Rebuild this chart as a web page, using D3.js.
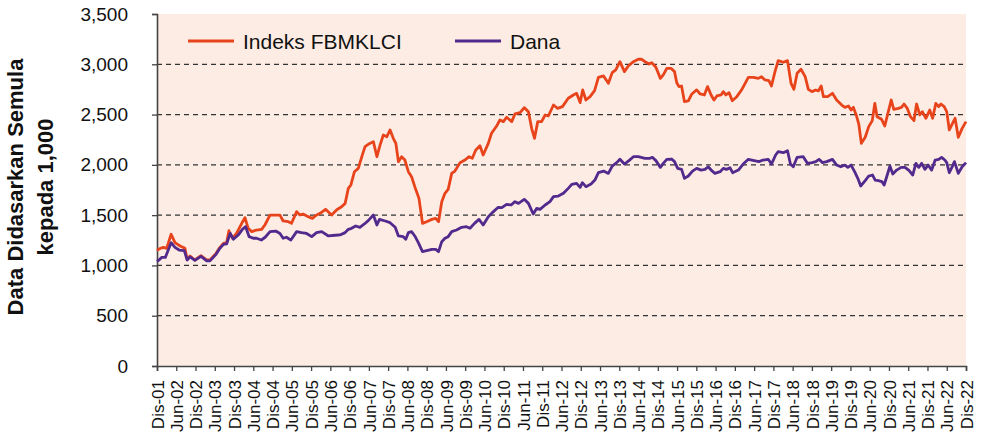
<!DOCTYPE html>
<html>
<head>
<meta charset="utf-8">
<script src="https://cdn.jsdelivr.net/npm/d3@7"></script>
<style>
  body { margin: 0; background: #fff; }
  svg { display: block; font-family: "Liberation Sans", Arial, sans-serif; }
</style>
</head>
<body>
<div id="chart"></div>
<script>
// months counted from Dis-01 (0) to Dis-22 (252), value rebased to 1,000
const fbmklci = [
  [0,1150],[1,1170],[2,1180],[3,1170],[4.4,1310],[5.6,1226],[7.2,1193],[8.7,1170],[9.4,1061],[10.3,1094],
  [11.8,1054],[13.7,1097],[15.5,1054],[16.5,1054],[18.4,1120],[19.6,1180],[20.7,1220],[21.7,1228],[22.4,1345],[23.5,1270],
  [24.8,1320],[26.4,1419],[27.4,1475],[28.4,1369],[29.5,1336],[31,1352],[32.6,1358],[33.6,1402],[35.2,1501],[36.8,1501],
  [38.3,1500],[39.3,1442],[40.9,1435],[41.9,1419],[43.5,1535],[44.5,1502],[45.5,1511],[47.1,1485],[48.4,1468],[49.6,1500],
  [50.8,1518],[52.5,1558],[54.4,1501],[56,1554],[57.5,1584],[58.6,1617],[59.6,1766],[60.4,1800],[61.5,1932],[62.7,1965],
  [63.8,2081],[64.8,2181],[65.8,2204],[67.4,2231],[68.5,2081],[69.5,2198],[70.5,2297],[71.6,2280],[72.6,2347],[73.6,2264],
  [74.4,2214],[75.2,2032],[76.2,2081],[77.2,2048],[78.3,1932],[79.3,1882],[80.3,1783],[81.6,1667],[82.7,1418],[84,1435],
  [85.6,1458],[86.8,1468],[87.7,1435],[88.7,1634],[89.7,1717],[90.7,1756],[91.8,1915],[92.8,1938],[94.4,2022],[95.9,2048],
  [97.2,2081],[98.2,2065],[99.3,2148],[100.6,2190],[101.6,2098],[103.2,2214],[104.2,2314],[105.8,2386],[106.8,2446],[107.9,2430],
  [108.9,2473],[110.5,2430],[111.5,2506],[113.1,2519],[114.4,2569],[115.7,2529],[116.7,2363],[117.6,2264],[118.6,2430],[119.8,2430],
  [120.9,2496],[121.9,2486],[123.5,2595],[124.8,2562],[126.3,2579],[128.1,2662],[129.7,2695],[130.7,2711],[131.8,2619],[132.6,2745],
  [133.6,2645],[134.9,2678],[136.3,2738],[137.5,2870],[139.1,2884],[140.6,2811],[141.8,2917],[142.9,2944],[144.2,3026],[145.6,2927],
  [146.8,2983],[148.4,3026],[149.9,3050],[151,3050],[152,3026],[153.3,3003],[154.1,3016],[155.4,2970],[156.8,2860],[157.7,2894],
  [158.8,2960],[160.1,2960],[161.2,2927],[161.9,2817],[162.6,2778],[163.4,2784],[164.3,2628],[165.5,2635],[166.6,2705],[168.1,2745],
  [169.2,2705],[170.5,2695],[171.5,2778],[172.6,2695],[173.5,2645],[174.4,2685],[175.7,2695],[176.4,2728],[177.2,2695],[178.2,2718],
  [179.2,2638],[180.6,2678],[182.1,2745],[183.2,2811],[184.2,2870],[185.8,2870],[187.3,2860],[188.3,2877],[189.4,2844],[190.6,2837],
  [191.4,2784],[192.5,2927],[193.5,3036],[195.1,3020],[196.4,3036],[197.5,2811],[198.4,2751],[199.4,2910],[200.6,2950],[201.9,2877],
  [202.9,2751],[204,2728],[205.2,2745],[206,2735],[206.9,2784],[207.6,2678],[208.9,2678],[210.4,2711],[211.7,2645],[213.3,2595],
  [214.3,2572],[215.4,2585],[216.2,2545],[216.9,2572],[217.8,2496],[218.6,2406],[219.4,2214],[220.6,2274],[221.7,2380],[222.8,2440],
  [223.6,2612],[224.3,2479],[225.7,2453],[226.7,2387],[227.8,2529],[228.7,2645],[229.5,2552],[230.9,2562],[231.9,2572],[232.7,2605],
  [233.7,2562],[234.7,2479],[235.8,2440],[236.6,2605],[237.6,2496],[238.4,2529],[239.5,2463],[240.7,2545],[241.6,2463],[242.6,2612],
  [243.5,2579],[244.2,2605],[245.2,2579],[246,2529],[246.8,2347],[247.8,2413],[248.6,2463],[249.6,2274],[250.8,2363],[252,2430]
];

const dana = [
  [0,1040],[0.6,1054],[1.5,1080],[2.6,1080],[4.4,1226],[5.6,1180],[6.9,1153],[8.5,1147],[9.4,1054],[10.3,1085],
  [11.8,1050],[13.7,1090],[15.5,1045],[16.5,1045],[18.4,1110],[19.6,1170],[20.7,1210],[21.7,1215],[22.8,1318],[23.8,1260],
  [25.3,1302],[26.6,1359],[27.6,1385],[28.7,1286],[30,1270],[31,1270],[32.5,1253],[33.7,1280],[35.2,1336],[37,1342],
  [38.3,1318],[39.3,1270],[40.3,1280],[41.7,1253],[43.5,1336],[45,1326],[46.6,1318],[48.2,1286],[49.7,1326],[51.3,1336],
  [53.4,1293],[55.5,1300],[57,1303],[58.6,1326],[59.6,1359],[60.6,1369],[61.9,1392],[63.2,1379],[64.6,1412],[65.8,1445],
  [67.4,1501],[68.5,1402],[69.3,1458],[71.1,1442],[72.6,1425],[74.2,1379],[75.2,1293],[76.7,1286],[77.5,1260],[78.3,1326],
  [79.3,1336],[80.3,1293],[81.4,1226],[82.7,1137],[84,1147],[85.6,1160],[86.8,1160],[87.7,1137],[88.7,1236],[89.7,1270],
  [90.7,1286],[91.8,1336],[93.3,1352],[94.9,1379],[96.4,1385],[97.5,1369],[98.9,1418],[100.3,1458],[101.6,1402],[103.2,1485],
  [104.8,1535],[106.3,1578],[107.4,1574],[108.9,1607],[110.3,1601],[111.5,1634],[112.6,1617],[114.4,1657],[115.7,1617],[117.2,1511],
  [118.3,1568],[119.3,1558],[120.9,1601],[122.4,1634],[123.5,1684],[125,1690],[126.6,1717],[128.1,1766],[129.2,1806],[130.7,1816],
  [131.8,1776],[132.5,1823],[133.6,1783],[135.2,1809],[136.4,1849],[137.5,1922],[139.1,1938],[140.6,1915],[141.8,1988],[143.2,2022],
  [144.2,2055],[145.6,2008],[147,2042],[148.4,2081],[149.9,2081],[152,2065],[153.6,2065],[154.3,2075],[155.4,2042],[156.8,1975],
  [157.7,2015],[158.8,2055],[160.3,2058],[161.2,2032],[162.2,1965],[163.4,1955],[164.3,1866],[165.5,1889],[166.8,1938],[168.1,1965],
  [169.5,1948],[170.7,1955],[171.7,1981],[172.8,1942],[173.8,1915],[175.4,1932],[176.4,1965],[177.4,1955],[178.5,1971],[179.3,1922],
  [181.1,1948],[182.6,2008],[184.2,2055],[186,2042],[187.5,2032],[188.8,2048],[190.4,2055],[191.4,2008],[192.7,2098],[193.5,2131],
  [195.1,2121],[196.4,2141],[197.3,2008],[198.2,1981],[199.4,2075],[201.3,2081],[202.6,2015],[204.1,2022],[205.2,2032],[206.2,2055],
  [207.3,2022],[208.6,2032],[210.4,2055],[211.7,1998],[213,1981],[214.3,1998],[215.2,1975],[216.2,1998],[217.3,1932],[218.3,1866],
  [219.2,1790],[220.6,1843],[221.7,1889],[222.9,1899],[223.7,1849],[224.7,1843],[225.8,1833],[226.5,1800],[227.3,1882],[228.3,1988],
  [229.2,1909],[230.4,1948],[231.8,1975],[233,1975],[234.3,1942],[235.4,1899],[236.4,2015],[237.3,1975],[238.2,2015],[239.2,1955],
  [240.2,1998],[241.3,1948],[242.4,2048],[243.5,2055],[244.4,2075],[245.4,2048],[246,2022],[246.8,1922],[247.8,1988],[248.4,2032],
  [249.6,1915],[250.8,1981],[252,2022]
];

const xLabels = [
  "Dis-01","Jun-02","Dis-02","Jun-03","Dis-03","Jun-04","Dis-04","Jun-05","Dis-05","Jun-06","Dis-06",
  "Jun-07","Dis-07","Jun-08","Dis-08","Jun-09","Dis-09","Jun-10","Dis-10","Jun-11","Dis-11","Jun-12",
  "Dis-12","Jun-13","Dis-13","Jun-14","Dis-14","Jun-15","Dis-15","Jun-16","Dis-16","Jun-17","Dis-17",
  "Jun-18","Dis-18","Jun-19","Dis-19","Jun-20","Dis-20","Jun-21","Dis-21","Jun-22","Dis-22"
];
const yTicks = [0, 500, 1000, 1500, 2000, 2500, 3000, 3500];
const gridValues = [500, 1000, 1500, 2000, 2500, 3000];

const seriesNames = ["Indeks FBMKLCI", "Dana"];
const seriesColors = ["#e8441c", "#52298c"];

const svgWidth = 982, svgHeight = 438;
const margin = { top: 14, right: 16, bottom: 72, left: 157 };
const width = svgWidth - margin.left - margin.right;
const height = svgHeight - margin.top - margin.bottom;

const svg = d3.select("#chart").append("svg")
  .attr("width", svgWidth)
  .attr("height", svgHeight);

const chart = svg.append("g")
  .attr("transform", `translate(${margin.left}, ${margin.top})`);

// scales
const x = d3.scaleLinear().domain([0, 252]).range([0, width]);
const y = d3.scaleLinear().domain([0, 3500]).range([height, 0]);

// plot background
chart.append("rect")
  .attr("width", width)
  .attr("height", height)
  .attr("fill", "#fdece4");

// dashed gridlines
chart.selectAll(".grid")
  .data(gridValues)
  .enter()
  .append("line")
  .attr("x1", 0)
  .attr("x2", width)
  .attr("y1", d => y(d))
  .attr("y2", d => y(d))
  .attr("stroke", "#333")
  .attr("stroke-width", 1.3)
  .attr("stroke-dasharray", "5,4");

// axes
const yAxis = d3.axisLeft(y)
  .tickValues(yTicks)
  .tickSize(5)
  .tickPadding(24)
  .tickFormat(d3.format(","));

const yG = chart.append("g").call(yAxis);
yG.selectAll("text")
  .attr("font-size", 19)
  .attr("fill", "#111");

const xAxis = d3.axisBottom(x)
  .tickValues(d3.range(0, 253, 6))
  .tickSize(5)
  .tickFormat((d, i) => xLabels[i]);

const xG = chart.append("g")
  .attr("transform", `translate(0, ${height})`)
  .call(xAxis);
xG.selectAll("text")
  .attr("transform", "rotate(-90)")
  .attr("text-anchor", "end")
  .attr("x", -14)
  .attr("y", 0)
  .attr("dy", "0.36em")
  .attr("font-size", 17)
  .attr("fill", "#111");

[yG, xG].forEach(g => {
  g.select(".domain").attr("stroke", "#444").attr("stroke-width", 1.6);
  g.selectAll(".tick line").attr("stroke", "#444").attr("stroke-width", 1.3);
});

// lines
const line = d3.line()
  .x(d => x(d[0]))
  .y(d => y(d[1]));

[fbmklci, dana].forEach((data, i) => {
  chart.append("path")
    .datum(data)
    .attr("d", line)
    .attr("fill", "none")
    .attr("stroke", seriesColors[i])
    .attr("stroke-width", 2.8)
    .attr("stroke-linejoin", "round");
});

// legend
const legendX = [31, 298];
const legend = chart.selectAll(".legend")
  .data(seriesNames)
  .enter()
  .append("g")
  .attr("transform", (d, i) => `translate(${legendX[i]}, 27)`);

legend.append("line")
  .attr("x1", 0)
  .attr("x2", 46)
  .attr("stroke", (d, i) => seriesColors[i])
  .attr("stroke-width", 2.8);

legend.append("text")
  .attr("x", 55)
  .attr("dy", "0.36em")
  .attr("font-size", 21)
  .attr("fill", "#111")
  .text(d => d);

// y axis title
const titleLines = ["Data Didasarkan Semula", "kepada 1,000"];
svg.selectAll(".ytitle")
  .data(titleLines)
  .enter()
  .append("text")
  .attr("transform", (d, i) => `translate(${23 + i * 30}, 187) rotate(-90)`)
  .attr("text-anchor", "middle")
  .attr("font-size", 22)
  .attr("font-weight", "bold")
  .attr("fill", "#111")
  .text(d => d);
</script>
</body>
</html>
